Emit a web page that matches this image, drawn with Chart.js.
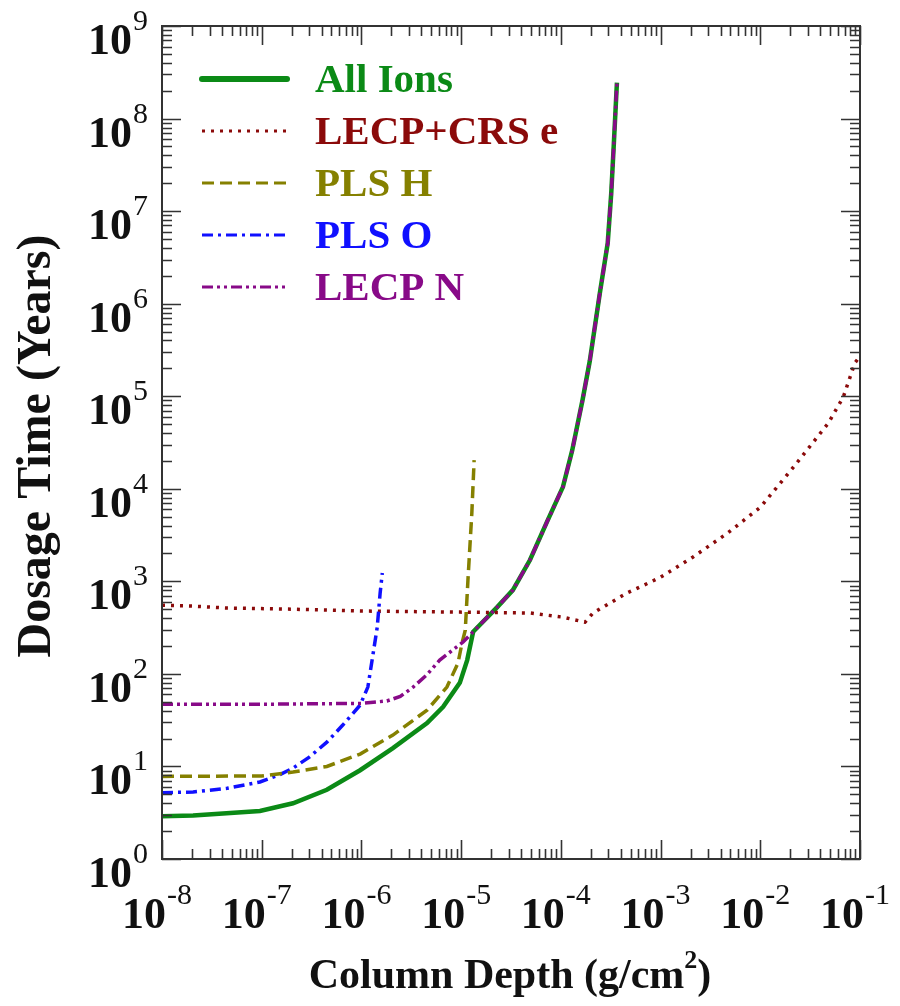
<!DOCTYPE html>
<html>
<head>
<meta charset="utf-8">
<title>Dosage Time vs Column Depth</title>
<script src="https://cdn.jsdelivr.net/npm/chart.js@4.4.0/dist/chart.umd.min.js"></script>
<style>
  html, body { margin: 0; padding: 0; background: #fff; }
  canvas { display: block; }
</style>
</head>
<body>
<canvas id="dose-chart" width="900" height="1006"></canvas>
<script>
// Column depth (g/cm^2) and dosage time (years)
const allIonsX = [1e-8, 2.05e-8, 9.6e-8, 2.06e-7, 4.5e-7, 9.7e-7, 2.07e-6, 4.55e-6, 6.6e-6, 9.7e-6, 1.15e-5, 1.32e-5, 2.3e-5, 3.3e-5, 4.9e-5, 7.2e-5, 1.05e-4, 1.3e-4, 1.65e-4, 1.95e-4, 2.46e-4, 2.95e-4, 3.2e-4, 3.4e-4, 3.65e-4];
const allIonsY = [2.9, 2.95, 3.3, 4.0, 5.6, 9.1, 15.8, 29.4, 44, 80, 141, 285, 527, 804, 1700, 4300, 1.05e4, 2.6e4, 9.1e4, 2.4e5, 1.3e6, 4.5e6, 1.55e7, 5.4e7, 2.45e8];

const electronX = [1e-8, 2e-8, 4.5e-8, 2.06e-7, 9.7e-7, 9.7e-6, 4.9e-5, 1.05e-4, 1.75e-4, 2.1e-4, 4.6e-4, 9.9e-4, 2.1e-3, 4.7e-3, 1e-2, 2.14e-2, 4.8e-2, 6.8e-2, 8.9e-2, 1e-1];
const electronY = [553, 540, 515, 500, 478, 465, 455, 410, 362, 455, 747, 1100, 1820, 3320, 6300, 1.7e4, 5.1e4, 9.8e4, 2.3e5, 2.7e5];

const plsHX = [1e-8, 1e-7, 2.06e-7, 4.5e-7, 9.7e-7, 2.07e-6, 4.55e-6, 7.2e-6, 9.3e-6, 1.02e-5, 1.1e-5, 1.17e-5, 1.28e-5, 1.35e-5];
const plsHY = [7.8, 7.9, 8.7, 10, 13.6, 21.8, 40.6, 72, 131, 215, 297, 1030, 5470, 2.04e4];

const plsOX = [1e-8, 2.05e-8, 4.5e-8, 9.6e-8, 1.5e-7, 2.06e-7, 3.0e-7, 4.5e-7, 6.5e-7, 9.7e-7, 1.16e-6, 1.28e-6, 1.44e-6, 1.54e-6, 1.62e-6];
const plsOY = [5.2, 5.3, 5.8, 6.8, 8.1, 9.6, 12.6, 18.3, 28, 46, 72, 141, 318, 745, 1230];

const lecpNX = [1e-8, 1e-7, 1e-6, 1.8e-6, 2.45e-6, 3.3e-6, 4.5e-6, 6.1e-6, 1.04e-5, 1.32e-5, 2.3e-5, 3.3e-5, 4.9e-5, 7.2e-5, 1.05e-4, 1.3e-4, 1.65e-4, 1.95e-4, 2.46e-4, 2.95e-4, 3.2e-4, 3.4e-4, 3.65e-4];
const lecpNY = [47, 47, 48, 51, 57, 72, 97, 141, 220, 285, 527, 804, 1700, 4300, 1.05e4, 2.6e4, 9.1e4, 2.4e5, 1.3e6, 4.5e6, 1.55e7, 5.4e7, 2.45e8];

const seriesNames = ['All Ions', 'LECP+CRS e', 'PLS H', 'PLS O', 'LECP N'];
const xExponents = [-8, -7, -6, -5, -4, -3, -2, -1];
const yExponents = [0, 1, 2, 3, 4, 5, 6, 7, 8, 9];

const pts = (xs, ys) => xs.map((x, i) => ({ x: x, y: ys[i] }));

const styles = [
    { color: '#0b8a16', width: 4.5, dash: [] },
    { color: '#8b0a0a', width: 3.5, dash: [3, 6] },
    { color: '#858000', width: 3.5, dash: [12, 6] },
    { color: '#1010ff', width: 3.5, dash: [11, 5, 3, 5] },
    { color: '#880a88', width: 3.5, dash: [11, 4, 3, 4, 3, 4] }
];
const seriesData = [
    pts(allIonsX, allIonsY),
    pts(electronX, electronY),
    pts(plsHX, plsHY),
    pts(plsOX, plsOY),
    pts(lecpNX, lecpNY)
];
// purple drawn over green, like the original
const drawOrder = [4, 2, 1, 1, 0];

const serif = '"Liberation Serif", "Times New Roman", serif';

// "10" with a raised exponent
function drawPower(ctx, exp, x, baseline, align) {
    ctx.font = 'bold 44px ' + serif;
    const base = ctx.measureText('10').width;
    ctx.font = '30px ' + serif;
    const sup = String(exp);
    const supW = ctx.measureText(sup).width;
    let left;
    if (align === 'right') left = x - base - supW - 1;
    else left = x - (base + supW + 1) / 2;
    ctx.textAlign = 'left';
    ctx.font = 'bold 44px ' + serif;
    ctx.fillText('10', left, baseline);
    ctx.font = '30px ' + serif;
    ctx.fillText(sup, left + base + 1, baseline - 24);
}

const framePlugin = {
    id: 'frame',
    afterDraw(chart) {
        const ctx = chart.ctx;
        const a = chart.chartArea;
        const xs = chart.scales.x;
        const ys = chart.scales.y;
        ctx.save();
        ctx.strokeStyle = '#333';
        ctx.lineWidth = 2;
        ctx.setLineDash([]);
        ctx.strokeRect(a.left, a.top, a.right - a.left, a.bottom - a.top);

        ctx.lineWidth = 1.6;
        ctx.beginPath();
        // x ticks (bottom and top, pointing inward)
        for (let k = -8; k <= -1; k++) {
            for (let m = 1; m <= 9; m++) {
                const v = m * Math.pow(10, k);
                if (v > 0.1 * 1.0001) break;
                const px = Math.round(xs.getPixelForValue(v)) + 0.5;
                const len = m === 1 ? 19 : 10;
                ctx.moveTo(px, a.bottom); ctx.lineTo(px, a.bottom - len);
                ctx.moveTo(px, a.top); ctx.lineTo(px, a.top + len);
            }
        }
        // y ticks (left and right)
        for (let k = 0; k <= 9; k++) {
            for (let m = 1; m <= 9; m++) {
                const v = m * Math.pow(10, k);
                if (v > 1e9 * 1.0001) break;
                const py = Math.round(ys.getPixelForValue(v)) + 0.5;
                const len = m === 1 ? 19 : 10;
                ctx.moveTo(a.left, py); ctx.lineTo(a.left + len, py);
                ctx.moveTo(a.right, py); ctx.lineTo(a.right - len, py);
            }
        }
        ctx.stroke();

        // tick labels
        ctx.fillStyle = '#111';
        ctx.textBaseline = 'alphabetic';
        xExponents.forEach(e => {
            const px = xs.getPixelForValue(Math.pow(10, e));
            drawPower(ctx, e, px - 5, 928, 'center');
        });
        yExponents.forEach(e => {
            const py = ys.getPixelForValue(Math.pow(10, e));
            drawPower(ctx, e, 148, py + 28, 'right');
        });

        // axis titles
        ctx.font = 'bold 42px ' + serif;
        const t1 = 'Column Depth (g/cm';
        const w1 = ctx.measureText(t1).width;
        ctx.font = 'bold 26px ' + serif;
        const w2 = ctx.measureText('2').width;
        ctx.font = 'bold 42px ' + serif;
        const w3 = ctx.measureText(')').width;
        let tx = 510 - (w1 + w2 + w3) / 2;
        ctx.textAlign = 'left';
        ctx.fillText(t1, tx, 988);
        ctx.font = 'bold 26px ' + serif;
        ctx.fillText('2', tx + w1, 968);
        ctx.font = 'bold 42px ' + serif;
        ctx.fillText(')', tx + w1 + w2, 988);

        ctx.save();
        ctx.translate(50, 446);
        ctx.rotate(-Math.PI / 2);
        ctx.textAlign = 'center';
        ctx.font = 'bold 48px ' + serif;
        ctx.fillText('Dosage Time (Years)', 0, 0);
        ctx.restore();

        // legend inside the plot
        seriesNames.forEach((name, i) => {
            const s = styles[i];
            const ly = 79 + i * 52;
            ctx.strokeStyle = s.color;
            ctx.lineWidth = i === 0 ? 6 : 3;
            ctx.lineCap = i === 0 ? 'round' : 'butt';
            ctx.setLineDash(s.dash);
            ctx.beginPath();
            ctx.moveTo(202, ly);
            ctx.lineTo(287, ly);
            ctx.stroke();
            ctx.setLineDash([]);
            ctx.fillStyle = s.color;
            ctx.font = 'bold 41px ' + serif;
            ctx.textAlign = 'left';
            ctx.fillText(name, 315, ly + 13);
        });
        ctx.restore();
    }
};

const ctxDose = document.getElementById('dose-chart').getContext('2d');

const doseChart = new Chart(ctxDose, {
    type: 'scatter',
    data: {
        datasets: seriesNames.map((name, i) => ({
            label: name,
            data: seriesData[i],
            showLine: true,
            borderColor: styles[i].color,
            backgroundColor: styles[i].color,
            borderWidth: styles[i].width,
            borderDash: styles[i].dash,
            pointRadius: 0,
            tension: 0,
            order: drawOrder[i]
        }))
    },
    options: {
        responsive: false,
        animation: false,
        layout: {
            padding: { left: 162, top: 26, right: 40, bottom: 147 }
        },
        scales: {
            x: { type: 'logarithmic', min: 1e-8, max: 1e-1, display: false },
            y: { type: 'logarithmic', min: 1, max: 1e9, display: false }
        },
        plugins: {
            legend: { display: false },
            tooltip: { enabled: false }
        }
    },
    plugins: [framePlugin]
});
</script>
</body>
</html>
